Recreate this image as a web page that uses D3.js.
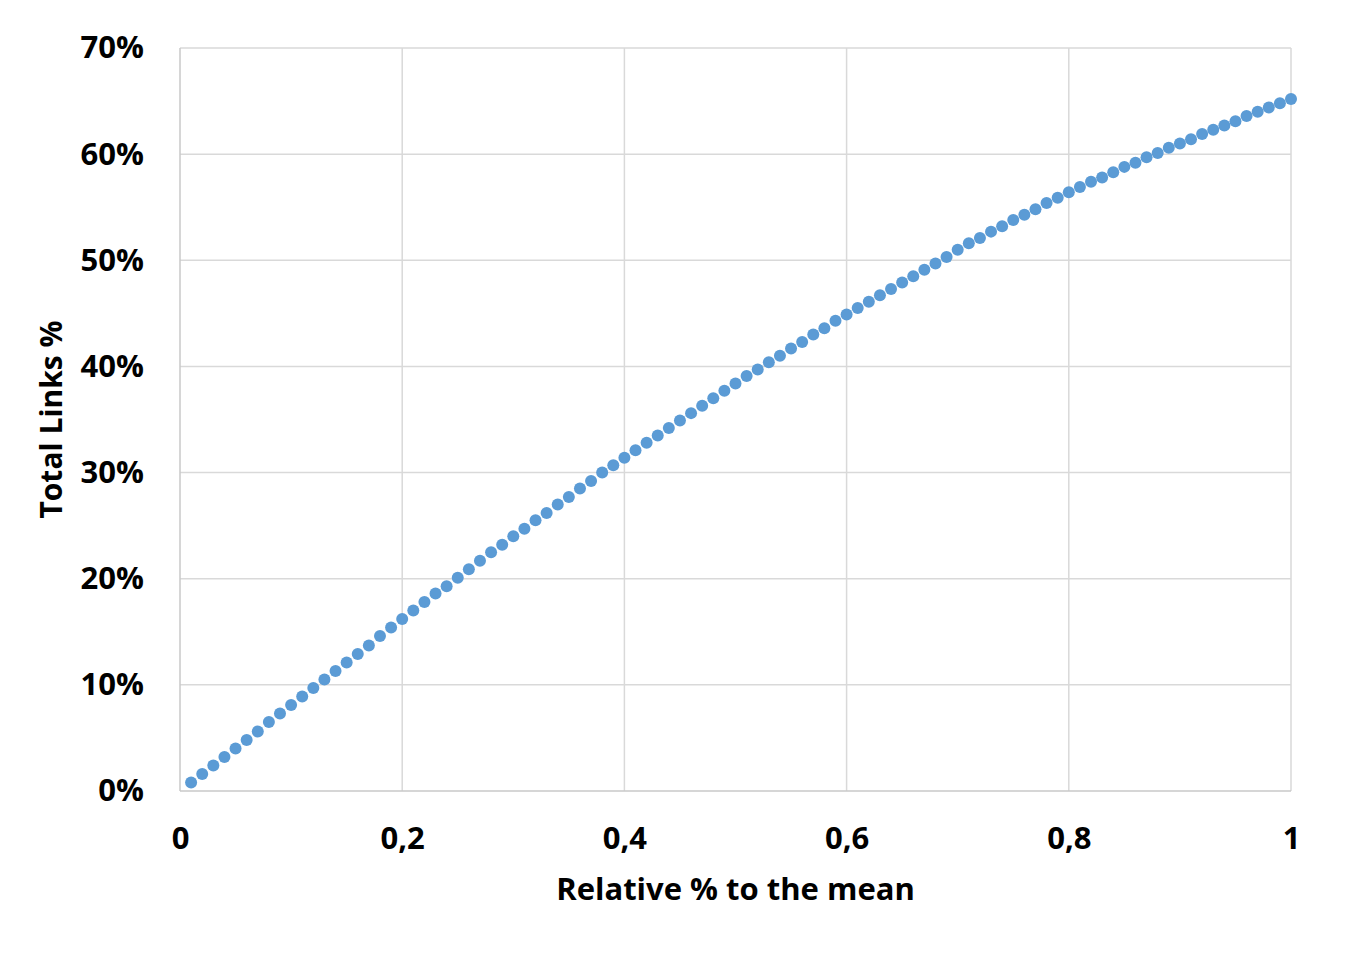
<!DOCTYPE html>
<html><head><meta charset="utf-8">
<script src="https://cdn.jsdelivr.net/npm/d3@7"></script>
<style>body{margin:0;background:#fff}svg{display:block}</style>
</head><body>
<svg id="c" width="1352" height="957"></svg>
<script>
const xValues = [0.01,0.02,0.03,0.04,0.05,0.06,0.07,0.08,0.09,0.10,
0.11,0.12,0.13,0.14,0.15,0.16,0.17,0.18,0.19,0.20,
0.21,0.22,0.23,0.24,0.25,0.26,0.27,0.28,0.29,0.30,
0.31,0.32,0.33,0.34,0.35,0.36,0.37,0.38,0.39,0.40,
0.41,0.42,0.43,0.44,0.45,0.46,0.47,0.48,0.49,0.50,
0.51,0.52,0.53,0.54,0.55,0.56,0.57,0.58,0.59,0.60,
0.61,0.62,0.63,0.64,0.65,0.66,0.67,0.68,0.69,0.70,
0.71,0.72,0.73,0.74,0.75,0.76,0.77,0.78,0.79,0.80,
0.81,0.82,0.83,0.84,0.85,0.86,0.87,0.88,0.89,0.90,
0.91,0.92,0.93,0.94,0.95,0.96,0.97,0.98,0.99,1.00];
const totalLinksPct = [0.8,1.6,2.4,3.2,4.0,4.8,5.6,6.5,7.3,8.1,
8.9,9.7,10.5,11.3,12.1,12.9,13.7,14.6,15.4,16.2,
17.0,17.8,18.6,19.3,20.1,20.9,21.7,22.5,23.2,24.0,
24.7,25.5,26.2,27.0,27.7,28.5,29.2,30.0,30.7,31.4,
32.1,32.8,33.5,34.2,34.9,35.6,36.3,37.0,37.7,38.4,
39.1,39.7,40.4,41.0,41.7,42.3,43.0,43.6,44.3,44.9,
45.5,46.1,46.7,47.3,47.9,48.5,49.1,49.7,50.3,51.0,
51.6,52.1,52.7,53.2,53.8,54.3,54.8,55.4,55.9,56.4,
56.9,57.4,57.8,58.3,58.8,59.2,59.7,60.1,60.6,61.0,
61.4,61.9,62.3,62.7,63.1,63.6,64.0,64.4,64.8,65.2];
const xTicks = [0,0.2,0.4,0.6,0.8,1];
const xTickLabels = ["0","0,2","0,4","0,6","0,8","1"];
const yTicks = [0,10,20,30,40,50,60,70];
const xTitle = "Relative % to the mean";
const yTitle = "Total Links %";

const svg = d3.select("#c");
const L=180, R=1291, T=48, B=791;
const x = d3.scaleLinear().domain([0,1]).range([L,R]);
const y = d3.scaleLinear().domain([0,70]).range([B,T]);
const font = "'Open Sans', sans-serif";

const g = svg.append("g");
g.selectAll(".hg").data(yTicks.filter(d=>d>0)).join("line")
  .attr("x1",L).attr("x2",R).attr("y1",d=>y(d)).attr("y2",d=>y(d))
  .attr("stroke","#d9d9d9").attr("stroke-width",1.5);
g.selectAll(".vg").data(xTicks.filter(d=>d>0)).join("line")
  .attr("x1",d=>x(d)).attr("x2",d=>x(d)).attr("y1",T).attr("y2",B)
  .attr("stroke","#d9d9d9").attr("stroke-width",1.5);
g.append("line").attr("x1",L).attr("x2",L).attr("y1",T).attr("y2",B).attr("stroke","#c8c8c8").attr("stroke-width",1.5);
g.append("line").attr("x1",L).attr("x2",R).attr("y1",B).attr("y2",B).attr("stroke","#c8c8c8").attr("stroke-width",1.5);

const yAxis = d3.axisLeft(y).tickValues(yTicks).tickFormat(d=>d+"%").tickSize(0).tickPadding(36);
const ya = svg.append("g").attr("transform",`translate(${L},0)`).call(yAxis);
ya.select(".domain").remove();
ya.selectAll("text").attr("font-family",font).attr("font-weight","bold").attr("font-size",31).attr("fill","#000");

const xAxis = d3.axisBottom(x).tickValues(xTicks).tickFormat((d,i)=>xTickLabels[i]).tickSize(0).tickPadding(36);
const xa = svg.append("g").attr("transform",`translate(0,${B})`).call(xAxis);
xa.select(".domain").remove();
xa.selectAll("text").attr("font-family",font).attr("font-weight","bold").attr("font-size",31).attr("fill","#000");

svg.append("text").attr("x",(L+R)/2).attr("y",900).attr("text-anchor","middle")
  .attr("font-family",font).attr("font-weight","bold").attr("font-size",31).text(xTitle);
svg.append("text").attr("transform",`translate(62,${(T+B)/2}) rotate(-90)`).attr("text-anchor","middle")
  .attr("font-family",font).attr("font-weight","bold").attr("font-size",30).text(yTitle);

svg.append("g").selectAll("circle").data(xValues).join("circle")
  .attr("cx",d=>x(d)).attr("cy",(d,i)=>y(totalLinksPct[i])).attr("r",6).attr("fill","#5b9bd5");
</script>
</body></html>
